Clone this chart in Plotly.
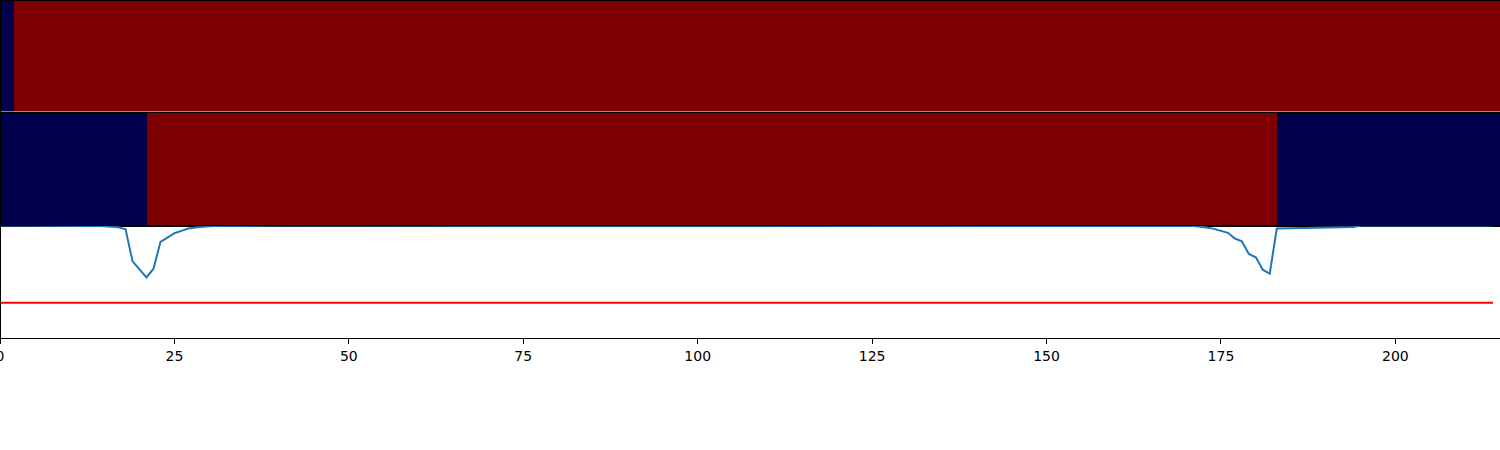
import plotly.graph_objects as go

# ---- data ----
n_cells = 215
# run-length encoded state rows (state, run length)
top_runs = [(0, 2), (1, 213)]
mid_runs = [(0, 21), (1, 162), (0, 32)]

score = [
    1.000, 1.000, 1.000, 1.000, 1.000, 1.000, 1.000, 1.000, 1.000, 1.000,
    1.000, 0.999, 0.998, 0.997, 0.995, 0.993, 0.990, 0.984, 0.967, 0.681,
    0.610, 0.538, 0.616, 0.854, 0.893, 0.931, 0.952, 0.973, 0.983, 0.990,
    0.994, 0.996, 0.997, 0.998, 0.999, 0.999, 0.999, 0.999, 0.999, 0.999,
    0.999, 0.999, 0.999, 0.999, 0.999, 0.999, 0.999, 0.999, 0.999, 0.999,
    0.999, 0.999, 0.999, 0.999, 0.999, 0.999, 0.999, 0.999, 0.999, 0.999,
    0.999, 0.999, 0.999, 0.999, 0.999, 0.999, 0.999, 0.999, 0.999, 0.999,
    0.999, 0.999, 0.999, 0.999, 0.999, 0.999, 0.999, 0.999, 0.999, 0.999,
    0.999, 0.999, 0.999, 0.999, 0.999, 0.999, 0.999, 0.999, 0.999, 0.999,
    0.999, 0.999, 0.999, 0.999, 0.999, 0.999, 0.999, 0.999, 0.999, 0.999,
    0.999, 0.999, 0.999, 0.999, 0.999, 0.999, 0.999, 0.999, 0.999, 0.999,
    0.999, 0.999, 0.999, 0.999, 0.999, 0.999, 0.999, 0.999, 0.999, 0.997,
    0.996, 0.996, 0.996, 0.996, 0.996, 0.996, 0.996, 0.996, 0.996, 0.996,
    0.996, 0.996, 0.996, 0.996, 0.996, 0.996, 0.996, 0.996, 0.996, 0.996,
    0.996, 0.996, 0.996, 0.996, 0.996, 0.996, 0.996, 0.996, 0.996, 0.996,
    0.997, 0.999, 0.999, 0.999, 0.999, 0.999, 0.999, 0.999, 0.999, 0.999,
    0.999, 0.999, 0.999, 0.999, 0.999, 0.999, 0.999, 0.999, 0.999, 0.999,
    0.998, 0.995, 0.989, 0.983, 0.970, 0.949, 0.935, 0.884, 0.860, 0.747,
    0.717, 0.607, 0.571, 0.973, 0.974, 0.975, 0.976, 0.977, 0.978, 0.979,
    0.980, 0.981, 0.982, 0.983, 0.986, 0.999, 0.999, 0.999, 0.999, 0.999,
    0.999, 0.999, 0.999, 0.999, 0.999, 0.999, 0.999, 0.999, 0.999, 0.999,
    0.999, 0.999, 0.999, 0.999, 0.999,
]
threshold = 0.3125
x_ticks = [0, 25, 50, 75, 100, 125, 150, 175, 200]


def expand(runs):
    out = []
    for state, length in runs:
        out.extend([state] * length)
    return out


top_row = expand(top_runs)
mid_row = expand(mid_runs)
xs = list(range(len(score)))

seismic = [[0.0, "#00004C"], [1.0, "#7F0000"]]

fig = go.Figure()
fig.add_trace(go.Heatmap(z=[top_row], x0=0.5, dx=1, y=[0], colorscale=seismic,
                         zmin=0, zmax=1, showscale=False, hoverinfo="skip",
                         xaxis="x", yaxis="y"))
fig.add_trace(go.Heatmap(z=[mid_row], x0=0.5, dx=1, y=[0], colorscale=seismic,
                         zmin=0, zmax=1, showscale=False, hoverinfo="skip",
                         xaxis="x2", yaxis="y2"))
fig.add_trace(go.Scatter(x=xs, y=score, mode="lines",
                         line=dict(color="#1f77b4", width=2),
                         xaxis="x3", yaxis="y3", showlegend=False))
fig.add_trace(go.Scatter(x=[xs[0], xs[-1]], y=[threshold, threshold], mode="lines",
                         line=dict(color="#ff0000", width=2),
                         xaxis="x3", yaxis="y3", showlegend=False))

H = 338.0
common_x = dict(range=[0, n_cells], showgrid=False, zeroline=False, automargin=False,
                showline=True, mirror=True, linecolor="black", linewidth=1)
common_y = dict(showgrid=False, zeroline=False, showticklabels=False, ticks="",
                automargin=False,
                showline=True, mirror=True, linecolor="black", linewidth=1)

fig.update_layout(
    width=1500, height=450,
    margin=dict(l=0, r=0, t=0, b=112, pad=0),
    paper_bgcolor="white", plot_bgcolor="white",
    font=dict(family="DejaVu Sans", size=14, color="black"),
    showlegend=False,
    xaxis=dict(**common_x, showticklabels=False, ticks="", anchor="y"),
    xaxis2=dict(**common_x, showticklabels=False, ticks="", anchor="y2", matches="x"),
    xaxis3=dict(**common_x, anchor="y3", matches="x", tickmode="array",
                tickvals=x_ticks, ticktext=[str(t) for t in x_ticks],
                ticks="outside", ticklen=5, tickwidth=1, tickcolor="black",
                ticklabeloverflow="allow"),
    yaxis=dict(**common_y, domain=[(H - 111.5) / H, 1.0], range=[-0.5, 0.5]),
    yaxis2=dict(**common_y, domain=[112.5 / H, (H - 113) / H], range=[-0.5, 0.5]),
    yaxis3=dict(**common_y, domain=[0, 112.5 / H], range=[0, 1.0]),
    shapes=[
        dict(type="line", xref="paper", yref="paper", x0=0, x1=1, y0=1, y1=1,
             line=dict(color="black", width=2), layer="above"),
        dict(type="line", xref="paper", yref="paper", x0=0, x1=0, y0=0, y1=1,
             line=dict(color="black", width=2), layer="above"),
    ],
)

fig.write_html("out.html", config={"displayModeBar": False},
               post_script="document.body.style.margin='0';document.body.style.padding='0';")
